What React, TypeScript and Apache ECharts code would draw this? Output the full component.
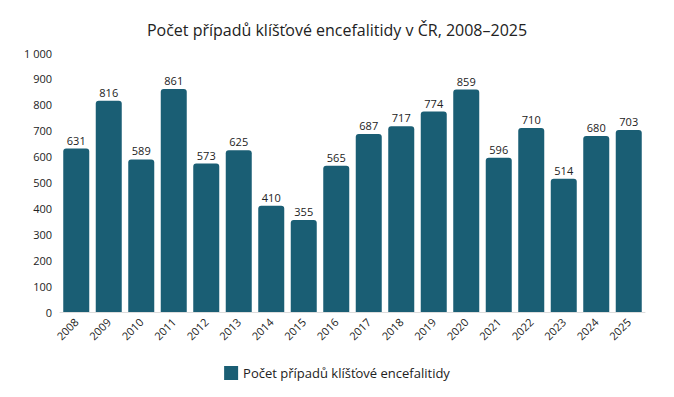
import React, { useEffect, useRef } from "react";
import * as echarts from "echarts";

const years = ["2008","2009","2010","2011","2012","2013","2014","2015","2016","2017","2018","2019","2020","2021","2022","2023","2024","2025"];
const cases = [631,816,589,861,573,625,410,355,565,687,717,774,859,596,710,514,680,703];
const seriesName = "Počet případů klíšťové encefalitidy";
const titleText = "Počet případů klíšťové encefalitidy v ČR, 2008–2025";

export default function App() {
  const ref = useRef<HTMLDivElement>(null);
  useEffect(() => {
    const chart = echarts.init(ref.current!, null, { renderer: "svg" });
    chart.setOption({
      animation: false,
      title: {
        text: titleText,
        left: "center",
        top: 9,
        textStyle: { fontFamily: "Open Sans", fontSize: 16, fontWeight: "normal", color: "#222" },
      },
      grid: { left: 52, right: 21, top: 45, bottom: 77 },
      xAxis: {
        type: "category",
        data: years,
        axisLine: { lineStyle: { color: "#dddddd" } },
        axisTick: { show: false },
        axisLabel: { rotate: 45, color: "#222", fontSize: 11, fontFamily: "Open Sans", margin: 8 },
      },
      yAxis: {
        type: "value",
        min: 0,
        max: 1000,
        interval: 100,
        splitLine: { show: false },
        axisLabel: {
          color: "#222",
          fontSize: 11,
          fontFamily: "Open Sans",
          formatter: (v: number) => (v >= 1000 ? String(v).replace(/\B(?=(\d{3})+(?!\d))/g, " ") : String(v)),
        },
      },
      legend: {
        bottom: 4,
        left: "center",
        itemWidth: 14,
        itemHeight: 14,
        icon: "rect",
        textStyle: { fontFamily: "Open Sans", fontSize: 13, color: "#222" },
        data: [seriesName],
      },
      series: [
        {
          name: seriesName,
          type: "bar",
          data: cases,
          barWidth: "80%",
          itemStyle: { color: "#1a5e74", borderRadius: [3, 3, 0, 0] },
          label: { show: true, position: "top", color: "#222", fontSize: 11, fontFamily: "Open Sans", distance: 3 },
        },
      ],
    });
    return () => chart.dispose();
  }, []);
  return <div ref={ref} style={{ width: 658, height: 381 }} />;
}
